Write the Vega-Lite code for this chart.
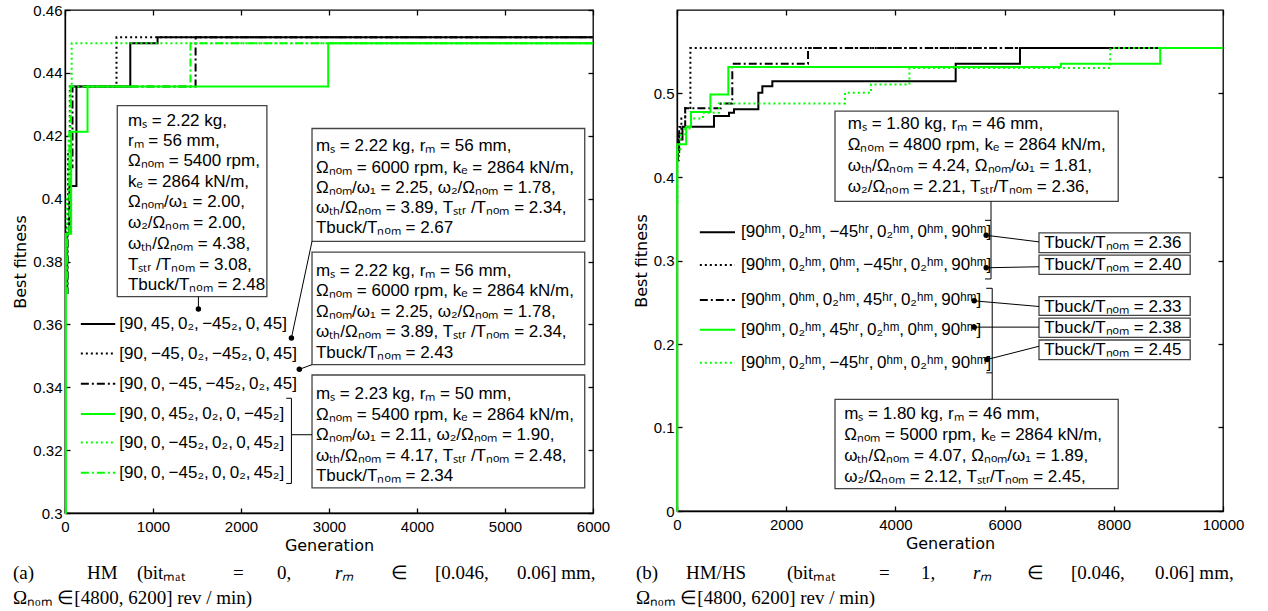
{
  "$schema": "https://vega.github.io/schema/vega-lite/v6.json",
  "background": "white",
  "padding": {"left": 12, "top": 2, "right": 5, "bottom": 0},
  "spacing": 21,
  "config": {
    "view": {"stroke": "#000", "strokeWidth": 1.3},
    "axis": {"grid": false, "domainColor": "#000", "domainWidth": 1.3, "tickColor": "#000", "tickSize": -5, "tickWidth": 1.3,
      "labelFont": "Liberation Sans", "labelFontSize": 15, "labelColor": "#000",
      "titleFont": "DejaVu Sans", "titleFontSize": 16, "titleFontWeight": "normal", "titleColor": "#000"},
    "axisX": {"labelPadding": 11, "titlePadding": 3},
    "axisY": {"labelPadding": 8, "titlePadding": 4}
  },
  "datasets": {
    "aL": [
      {"s":"a1","g":0,"v":0.372},{"s":"a1","g":25,"v":0.389},{"s":"a1","g":50,"v":0.404},{"s":"a1","g":130,"v":0.4357},{"s":"a1","g":742,"v":0.4494},{"s":"a1","g":1052,"v":0.4513},{"s":"a1","g":6000,"v":0.4513},
      {"s":"a2","g":0,"v":0.375},{"s":"a2","g":15,"v":0.392},{"s":"a2","g":35,"v":0.415},{"s":"a2","g":55,"v":0.4357},{"s":"a2","g":585,"v":0.4513},{"s":"a2","g":6000,"v":0.4513},
      {"s":"a3","g":0,"v":0.37},{"s":"a3","g":30,"v":0.3888},{"s":"a3","g":55,"v":0.41},{"s":"a3","g":85,"v":0.4357},{"s":"a3","g":1484,"v":0.4513},{"s":"a3","g":6000,"v":0.4513},
      {"s":"a4","g":0,"v":0.3},{"s":"a4","g":10,"v":0.3888},{"s":"a4","g":70,"v":0.4213},{"s":"a4","g":256,"v":0.4357},{"s":"a4","g":2991,"v":0.4494},{"s":"a4","g":6000,"v":0.4494},
      {"s":"a5","g":0,"v":0.37},{"s":"a5","g":20,"v":0.40},{"s":"a5","g":40,"v":0.4213},{"s":"a5","g":55,"v":0.4357},{"s":"a5","g":76,"v":0.4494},{"s":"a5","g":6000,"v":0.4494},
      {"s":"a6","g":0,"v":0.37},{"s":"a6","g":25,"v":0.3888},{"s":"a6","g":50,"v":0.4213},{"s":"a6","g":65,"v":0.4357},{"s":"a6","g":1426,"v":0.4494},{"s":"a6","g":6000,"v":0.4494}
    ],
    "bL": [
      {"s":"b1","g":0,"v":0.42},{"s":"b1","g":20,"v":0.445},{"s":"b1","g":100,"v":0.4603},{"s":"b1","g":678,"v":0.473},{"s":"b1","g":952,"v":0.477},{"s":"b1","g":1044,"v":0.481},{"s":"b1","g":1490,"v":0.5008},{"s":"b1","g":1563,"v":0.5088},{"s":"b1","g":1746,"v":0.5147},{"s":"b1","g":5104,"v":0.5357},{"s":"b1","g":6282,"v":0.5544},{"s":"b1","g":10000,"v":0.5544},
      {"s":"b2","g":0,"v":0.42},{"s":"b2","g":30,"v":0.45},{"s":"b2","g":80,"v":0.47},{"s":"b2","g":150,"v":0.4827},{"s":"b2","g":245,"v":0.5544},{"s":"b2","g":10000,"v":0.5544},
      {"s":"b3","g":0,"v":0.43},{"s":"b3","g":40,"v":0.46},{"s":"b3","g":150,"v":0.4822},{"s":"b3","g":800,"v":0.488},{"s":"b3","g":1013,"v":0.5357},{"s":"b3","g":2400,"v":0.5544},{"s":"b3","g":10000,"v":0.5544},
      {"s":"b4","g":0,"v":0.0},{"s":"b4","g":5,"v":0.4393},{"s":"b4","g":168,"v":0.46},{"s":"b4","g":256,"v":0.4778},{"s":"b4","g":612,"v":0.4988},{"s":"b4","g":940,"v":0.5318},{"s":"b4","g":7030,"v":0.5357},{"s":"b4","g":8850,"v":0.5544},{"s":"b4","g":10000,"v":0.5544},
      {"s":"b5","g":0,"v":0.37},{"s":"b5","g":8,"v":0.43},{"s":"b5","g":60,"v":0.45},{"s":"b5","g":150,"v":0.458},{"s":"b5","g":256,"v":0.4702},{"s":"b5","g":476,"v":0.477},{"s":"b5","g":769,"v":0.4881},{"s":"b5","g":3077,"v":0.5008},{"s":"b5","g":3553,"v":0.5107},{"s":"b5","g":4256,"v":0.5306},{"s":"b5","g":7934,"v":0.5544},{"s":"b5","g":10000,"v":0.5544}
    ],
    "aG": [
      {"s":"a1","g":180,"g2":571,"v":0.3601},{"s":"a2","g":180,"g2":571,"v":0.3507},{"s":"a3","g":180,"g2":571,"v":0.3411},
      {"s":"a4","g":180,"g2":571,"v":0.3315},{"s":"a5","g":180,"g2":571,"v":0.3224},{"s":"a6","g":180,"g2":571,"v":0.3128}
    ],
    "bG": [
      {"s":"b1","g":418,"g2":1062,"v":0.3339},{"s":"b2","g":418,"g2":1062,"v":0.2945},{"s":"b3","g":418,"g2":1062,"v":0.2528},
      {"s":"b4","g":418,"g2":1062,"v":0.2171},{"s":"b5","g":418,"g2":1062,"v":0.1774}
    ],
    "aR": [
      {"g":594,"g2":2294,"v":0.4296,"v2":0.3688},
      {"g":2807,"g2":5906,"v":0.4223,"v2":0.3864},
      {"g":2807,"g2":5906,"v":0.3830,"v2":0.3472},
      {"g":2807,"g2":5906,"v":0.3439,"v2":0.3080}
    ],
    "bR": [
      {"g":2894,"g2":8081,"v":0.479,"v2":0.3707},
      {"g":2894,"g2":8081,"v":0.1338,"v2":0.0267},
      {"g":6630,"g2":9399,"v":0.333,"v2":0.3095},
      {"g":6630,"g2":9399,"v":0.3064,"v2":0.2833},
      {"g":6630,"g2":9399,"v":0.2568,"v2":0.2342},
      {"g":6630,"g2":9399,"v":0.2310,"v2":0.2080},
      {"g":6630,"g2":9399,"v":0.2048,"v2":0.1814}
    ],
    "aS": [
      {"g":1516,"g2":1516,"v":0.3688,"v2":0.3649},
      {"g":2573,"g2":2807,"v":0.3557,"v2":0.3864},
      {"g":2663,"g2":2807,"v":0.3457,"v2":0.3472},
      {"g":2573,"g2":2573,"v":0.3365,"v2":0.3094},
      {"g":2514,"g2":2573,"v":0.3365,"v2":0.3365},
      {"g":2514,"g2":2573,"v":0.3094,"v2":0.3094},
      {"g":2573,"g2":2807,"v":0.3249,"v2":0.3249}
    ],
    "bS": [
      {"g":5751,"g2":5751,"v":0.3707,"v2":0.3481},
      {"g":5751,"g2":5751,"v":0.3481,"v2":0.2779},
      {"g":5641,"g2":5751,"v":0.3481,"v2":0.3481},
      {"g":5641,"g2":5751,"v":0.2779,"v2":0.2779},
      {"g":5663,"g2":6630,"v":0.3302,"v2":0.3223},
      {"g":5663,"g2":6630,"v":0.2913,"v2":0.2925},
      {"g":5773,"g2":5773,"v":0.2667,"v2":0.1655},
      {"g":5663,"g2":5773,"v":0.2667,"v2":0.2667},
      {"g":5663,"g2":5773,"v":0.1655,"v2":0.1655},
      {"g":5773,"g2":5773,"v":0.1655,"v2":0.1338},
      {"g":5443,"g2":6630,"v":0.2517,"v2":0.2449},
      {"g":5443,"g2":6630,"v":0.2202,"v2":0.2202},
      {"g":5678,"g2":6630,"v":0.1814,"v2":0.1973}
    ],
    "aP": [{"g":1516,"v":0.3649},{"g":2573,"v":0.3557},{"g":2663,"v":0.3457}],
    "bP": [{"g":5663,"v":0.3302},{"g":5663,"v":0.2913},{"g":5443,"v":0.2517},{"g":5443,"v":0.2202},{"g":5678,"v":0.1814}],
    "aT": [
      {"t":"mₛ = 2.22 kg,","g":715,"v":0.4248},
      {"t":"rₘ = 56 mm,","g":715,"v":0.4184},
      {"t":"Ωₙₒₘ = 5400 rpm,","g":715,"v":0.4120},
      {"t":"kₑ = 2864 kN/m,","g":715,"v":0.4054},
      {"t":"Ωₙₒₘ/ω₁ = 2.00,","g":715,"v":0.3988},
      {"t":"ω₂/Ωₙₒₘ = 2.00,","g":715,"v":0.3922},
      {"t":"ωₜₕ/Ωₙₒₘ = 4.38,","g":715,"v":0.3856},
      {"t":"Tₛₜᵣ /Tₙₒₘ = 3.08,","g":715,"v":0.3790},
      {"t":"Tbuck/Tₙₒₘ = 2.48","g":715,"v":0.3725},
      {"t":"mₛ = 2.22 kg, rₘ = 56 mm,","g":2852,"v":0.4166},
      {"t":"Ωₙₒₘ = 6000 rpm, kₑ = 2864 kN/m,","g":2852,"v":0.4099},
      {"t":"Ωₙₒₘ/ω₁ = 2.25, ω₂/Ωₙₒₘ = 1.78,","g":2852,"v":0.4035},
      {"t":"ωₜₕ/Ωₙₒₘ = 3.89, Tₛₜᵣ /Tₙₒₘ = 2.34,","g":2852,"v":0.3969},
      {"t":"Tbuck/Tₙₒₘ = 2.67","g":2852,"v":0.3905},
      {"t":"mₛ = 2.22 kg, rₘ = 56 mm,","g":2852,"v":0.3770},
      {"t":"Ωₙₒₘ = 6000 rpm, kₑ = 2864 kN/m,","g":2852,"v":0.3706},
      {"t":"Ωₙₒₘ/ω₁ = 2.25, ω₂/Ωₙₒₘ = 1.78,","g":2852,"v":0.3640},
      {"t":"ωₜₕ/Ωₙₒₘ = 3.89, Tₛₜᵣ /Tₙₒₘ = 2.34,","g":2852,"v":0.3576},
      {"t":"Tbuck/Tₙₒₘ = 2.43","g":2852,"v":0.3510},
      {"t":"mₛ = 2.23 kg, rₘ = 50 mm,","g":2852,"v":0.3377},
      {"t":"Ωₙₒₘ = 5400 rpm, kₑ = 2864 kN/m,","g":2852,"v":0.3311},
      {"t":"Ωₙₒₘ/ω₁ = 2.11, ω₂/Ωₙₒₘ = 1.90,","g":2852,"v":0.3247},
      {"t":"ωₜₕ/Ωₙₒₘ = 4.17, Tₛₜᵣ /Tₙₒₘ = 2.48,","g":2852,"v":0.3181},
      {"t":"Tbuck/Tₙₒₘ = 2.34","g":2852,"v":0.3117},
      {"t":"[90,\u200945,\u20090₂,\u2009−45₂,\u20090,\u200945]","g":616,"v":0.3601},
      {"t":"[90,\u2009−45,\u20090₂,\u2009−45₂,\u20090,\u200945]","g":616,"v":0.3507},
      {"t":"[90,\u20090,\u2009−45,\u2009−45₂,\u20090₂,\u200945]","g":616,"v":0.3411},
      {"t":"[90,\u20090,\u200945₂,\u20090₂,\u20090,\u2009−45₂]","g":616,"v":0.3315},
      {"t":"[90,\u20090,\u2009−45₂,\u20090₂,\u20090,\u200945₂]","g":616,"v":0.3224},
      {"t":"[90,\u20090,\u2009−45₂,\u20090,\u20090₂,\u200945₂]","g":616,"v":0.3128}
    ],
    "bT": [
      {"t":"mₛ = 1.80 kg, rₘ = 46 mm,","g":3128,"v":0.4631},
      {"t":"Ωₙₒₘ = 4800 rpm, kₑ = 2864 kN/m,","g":3128,"v":0.4381},
      {"t":"ωₜₕ/Ωₙₒₘ = 4.24, Ωₙₒₘ/ω₁ = 1.81,","g":3128,"v":0.4127},
      {"t":"ω₂/Ωₙₒₘ = 2.21, Tₛₜᵣ/Tₙₒₘ = 2.36,","g":3128,"v":0.3877},
      {"t":"mₛ = 1.80 kg, rₘ = 46 mm,","g":3062,"v":0.1167},
      {"t":"Ωₙₒₘ = 5000 rpm, kₑ = 2864 kN/m,","g":3062,"v":0.0913},
      {"t":"ωₜₕ/Ωₙₒₘ = 4.07, Ωₙₒₘ/ω₁ = 1.89,","g":3062,"v":0.0655},
      {"t":"ω₂/Ωₙₒₘ = 2.12, Tₛₜᵣ/Tₙₒₘ = 2.45,","g":3062,"v":0.0405},
      {"t":"Tbuck/Tₙₒₘ = 2.36","g":6725,"v":0.3214},
      {"t":"Tbuck/Tₙₒₘ = 2.40","g":6725,"v":0.2949},
      {"t":"Tbuck/Tₙₒₘ = 2.33","g":6725,"v":0.2449},
      {"t":"Tbuck/Tₙₒₘ = 2.38","g":6725,"v":0.2190},
      {"t":"Tbuck/Tₙₒₘ = 2.45","g":6725,"v":0.1933},
      {"t":"[90ʰᵐ,\u20090₂ʰᵐ,\u2009−45ʰʳ,\u20090₂ʰᵐ,\u20090ʰᵐ,\u200990ʰᵐ]","g":1172,"v":0.3339},
      {"t":"[90ʰᵐ,\u20090₂ʰᵐ,\u20090ʰᵐ,\u2009−45ʰʳ,\u20090₂ʰᵐ,\u200990ʰᵐ]","g":1172,"v":0.2945},
      {"t":"[90ʰᵐ,\u20090ʰᵐ,\u20090₂ʰᵐ,\u200945ʰʳ,\u20090₂ʰᵐ,\u200990ʰᵐ]","g":1172,"v":0.2528},
      {"t":"[90ʰᵐ,\u20090₂ʰᵐ,\u200945ʰʳ,\u20090₂ʰᵐ,\u20090ʰᵐ,\u200990ʰᵐ]","g":1172,"v":0.2171},
      {"t":"[90ʰᵐ,\u20090₂ʰᵐ,\u2009−45ʰʳ,\u20090ʰᵐ,\u20090₂ʰᵐ,\u200990ʰᵐ]","g":1172,"v":0.1774}
    ],
    "aC": [
      {"t":"(a)","g":-591,"v":0.2809},
      {"t":"HM","g":250,"v":0.2809},
      {"t":"(bitₘₐₜ","g":818,"v":0.2809},
      {"t":"=","g":1909,"v":0.2809},
      {"t":"0,","g":2409,"v":0.2809},
      {"t":"rₘ","g":3068,"v":0.2809},
      {"t":"∈","g":3705,"v":0.2809},
      {"t":"[0.046,","g":4205,"v":0.2809},
      {"t":"0.06] mm,","g":5136,"v":0.2809},
      {"t":"Ωₙₒₘ ∈[4800, 6200] rev / min)","g":-591,"v":0.2730}
    ],
    "bC": [
      {"t":"(b)","g":-751,"v":-0.0743},
      {"t":"HM/HS","g":165,"v":-0.0743},
      {"t":"(bitₘₐₜ","g":2015,"v":-0.0743},
      {"t":"=","g":3700,"v":-0.0743},
      {"t":"1,","g":4469,"v":-0.0743},
      {"t":"rₘ","g":5421,"v":-0.0743},
      {"t":"∈","g":6410,"v":-0.0743},
      {"t":"[0.046,","g":7216,"v":-0.0743},
      {"t":"0.06] mm,","g":8755,"v":-0.0743},
      {"t":"Ωₙₒₘ ∈[4800, 6200] rev / min)","g":-751,"v":-0.1042}
    ]
  },
  "hconcat": [
    {
      "width": 528, "height": 503,
      "resolve": {"axis": {"x": "independent", "y": "independent"}},
      "layer": [
        {
          "data": {"name": "aL"},
          "mark": {"type": "line", "interpolate": "step-after", "strokeWidth": 2},
          "encoding": {
            "x": {"field": "g", "type": "quantitative", "scale": {"domain": [0, 6000], "nice": false},
              "axis": {"title": "Generation", "values": [0,1000,2000,3000,4000,5000,6000], "format": "d", "labelFlush": false, "labelOverlap": false}},
            "y": {"field": "v", "type": "quantitative", "scale": {"domain": [0.3, 0.46], "nice": false, "zero": false},
              "axis": {"title": "Best fitness", "values": [0.3,0.32,0.34,0.36,0.38,0.4,0.42,0.44,0.46], "format": ".2~f", "labelOverlap": false}},
            "color": {"field": "s", "type": "nominal", "scale": {"domain": ["a1","a2","a3","a4","a5","a6"], "range": ["#000000","#000000","#000000","#00ff00","#00ff00","#00ff00"]}, "legend": null},
            "strokeDash": {"field": "s", "type": "nominal", "scale": {"domain": ["a1","a2","a3","a4","a5","a6"], "range": [[1,0],[2,3],[8,3,2,3],[1,0],[2,3],[8,3,2,3]]}, "legend": null}
          }
        },
        {
          "data": {"name": "aL"},
          "mark": {"type": "point", "opacity": 0},
          "encoding": {
            "x": {"field": "g", "type": "quantitative", "axis": {"orient": "top", "labels": false, "title": null, "domain": false, "values": [0,1000,2000,3000,4000,5000,6000]}},
            "y": {"field": "v", "type": "quantitative", "axis": {"orient": "right", "labels": false, "title": null, "domain": false, "values": [0.3,0.32,0.34,0.36,0.38,0.4,0.42,0.44,0.46]}}
          }
        },
        {
          "data": {"name": "aR"},
          "mark": {"type": "rect", "fill": "#ffffff", "stroke": "#444444", "strokeWidth": 1.3},
          "encoding": {
            "x": {"field": "g", "type": "quantitative", "axis": null}, "x2": {"field": "g2"},
            "y": {"field": "v", "type": "quantitative", "axis": null}, "y2": {"field": "v2"}
          }
        },
        {
          "data": {"name": "aS"},
          "mark": {"type": "rule", "color": "#000000", "strokeWidth": 1},
          "encoding": {
            "x": {"field": "g", "type": "quantitative", "axis": null}, "x2": {"field": "g2"},
            "y": {"field": "v", "type": "quantitative", "axis": null}, "y2": {"field": "v2"}
          }
        },
        {
          "data": {"name": "aP"},
          "mark": {"type": "point", "filled": true, "color": "#000000", "size": 30, "opacity": 1},
          "encoding": {
            "x": {"field": "g", "type": "quantitative", "axis": null},
            "y": {"field": "v", "type": "quantitative", "axis": null}
          }
        },
        {
          "data": {"name": "aG"},
          "mark": {"type": "rule", "strokeWidth": 2},
          "encoding": {
            "x": {"field": "g", "type": "quantitative", "axis": null}, "x2": {"field": "g2"},
            "y": {"field": "v", "type": "quantitative", "axis": null},
            "color": {"field": "s", "type": "nominal", "legend": null},
            "strokeDash": {"field": "s", "type": "nominal", "legend": null}
          }
        },
        {
          "data": {"name": "aT"},
          "mark": {"type": "text", "align": "left", "baseline": "middle", "font": "Liberation Sans", "fontSize": 17, "color": "#000000"},
          "encoding": {
            "x": {"field": "g", "type": "quantitative", "axis": null},
            "y": {"field": "v", "type": "quantitative", "axis": null},
            "text": {"field": "t"}
          }
        },
        {
          "data": {"name": "aC"},
          "transform": [{"filter": "datum.t !== 'rₘ'"}],
          "mark": {"type": "text", "align": "left", "baseline": "middle", "font": "Liberation Serif", "fontSize": 19, "color": "#000000"},
          "encoding": {
            "x": {"field": "g", "type": "quantitative", "axis": null},
            "y": {"field": "v", "type": "quantitative", "axis": null},
            "text": {"field": "t"}
          }
        },
        {
          "data": {"name": "aC"},
          "transform": [{"filter": "datum.t === 'rₘ'"}],
          "mark": {"type": "text", "align": "left", "baseline": "middle", "font": "Liberation Serif", "fontStyle": "italic", "fontSize": 19, "color": "#000000"},
          "encoding": {
            "x": {"field": "g", "type": "quantitative", "axis": null},
            "y": {"field": "v", "type": "quantitative", "axis": null},
            "text": {"field": "t"}
          }
        }
      ]
    },
    {
      "width": 546, "height": 501,
      "resolve": {"axis": {"x": "independent", "y": "independent"}},
      "layer": [
        {
          "data": {"name": "bL"},
          "mark": {"type": "line", "interpolate": "step-after", "strokeWidth": 2},
          "encoding": {
            "x": {"field": "g", "type": "quantitative", "scale": {"domain": [0, 10000], "nice": false},
              "axis": {"title": "Generation", "values": [0,2000,4000,6000,8000,10000], "format": "d", "labelFlush": false, "labelOverlap": false}},
            "y": {"field": "v", "type": "quantitative", "scale": {"domain": [0, 0.6], "nice": false, "zero": false},
              "axis": {"title": "Best fitness", "values": [0,0.1,0.2,0.3,0.4,0.5], "format": ".1~f", "labelOverlap": false}},
            "color": {"field": "s", "type": "nominal", "scale": {"domain": ["b1","b2","b3","b4","b5"], "range": ["#000000","#000000","#000000","#00ff00","#00ff00"]}, "legend": null},
            "strokeDash": {"field": "s", "type": "nominal", "scale": {"domain": ["b1","b2","b3","b4","b5"], "range": [[1,0],[2,3],[8,3,2,3],[1,0],[2,3]]}, "legend": null}
          }
        },
        {
          "data": {"name": "bL"},
          "mark": {"type": "point", "opacity": 0},
          "encoding": {
            "x": {"field": "g", "type": "quantitative", "axis": {"orient": "top", "labels": false, "title": null, "domain": false, "values": [0,2000,4000,6000,8000,10000]}},
            "y": {"field": "v", "type": "quantitative", "axis": {"orient": "right", "labels": false, "title": null, "domain": false, "values": [0,0.1,0.2,0.3,0.4,0.5]}}
          }
        },
        {
          "data": {"name": "bR"},
          "mark": {"type": "rect", "fill": "#ffffff", "stroke": "#444444", "strokeWidth": 1.3},
          "encoding": {
            "x": {"field": "g", "type": "quantitative", "axis": null}, "x2": {"field": "g2"},
            "y": {"field": "v", "type": "quantitative", "axis": null}, "y2": {"field": "v2"}
          }
        },
        {
          "data": {"name": "bS"},
          "mark": {"type": "rule", "color": "#000000", "strokeWidth": 1},
          "encoding": {
            "x": {"field": "g", "type": "quantitative", "axis": null}, "x2": {"field": "g2"},
            "y": {"field": "v", "type": "quantitative", "axis": null}, "y2": {"field": "v2"}
          }
        },
        {
          "data": {"name": "bP"},
          "mark": {"type": "point", "filled": true, "color": "#000000", "size": 30, "opacity": 1},
          "encoding": {
            "x": {"field": "g", "type": "quantitative", "axis": null},
            "y": {"field": "v", "type": "quantitative", "axis": null}
          }
        },
        {
          "data": {"name": "bG"},
          "mark": {"type": "rule", "strokeWidth": 2},
          "encoding": {
            "x": {"field": "g", "type": "quantitative", "axis": null}, "x2": {"field": "g2"},
            "y": {"field": "v", "type": "quantitative", "axis": null},
            "color": {"field": "s", "type": "nominal", "legend": null},
            "strokeDash": {"field": "s", "type": "nominal", "legend": null}
          }
        },
        {
          "data": {"name": "bT"},
          "mark": {"type": "text", "align": "left", "baseline": "middle", "font": "Liberation Sans", "fontSize": 17, "color": "#000000"},
          "encoding": {
            "x": {"field": "g", "type": "quantitative", "axis": null},
            "y": {"field": "v", "type": "quantitative", "axis": null},
            "text": {"field": "t"}
          }
        },
        {
          "data": {"name": "bC"},
          "transform": [{"filter": "datum.t !== 'rₘ'"}],
          "mark": {"type": "text", "align": "left", "baseline": "middle", "font": "Liberation Serif", "fontSize": 19, "color": "#000000"},
          "encoding": {
            "x": {"field": "g", "type": "quantitative", "axis": null},
            "y": {"field": "v", "type": "quantitative", "axis": null},
            "text": {"field": "t"}
          }
        },
        {
          "data": {"name": "bC"},
          "transform": [{"filter": "datum.t === 'rₘ'"}],
          "mark": {"type": "text", "align": "left", "baseline": "middle", "font": "Liberation Serif", "fontStyle": "italic", "fontSize": 19, "color": "#000000"},
          "encoding": {
            "x": {"field": "g", "type": "quantitative", "axis": null},
            "y": {"field": "v", "type": "quantitative", "axis": null},
            "text": {"field": "t"}
          }
        }
      ]
    }
  ]
}
